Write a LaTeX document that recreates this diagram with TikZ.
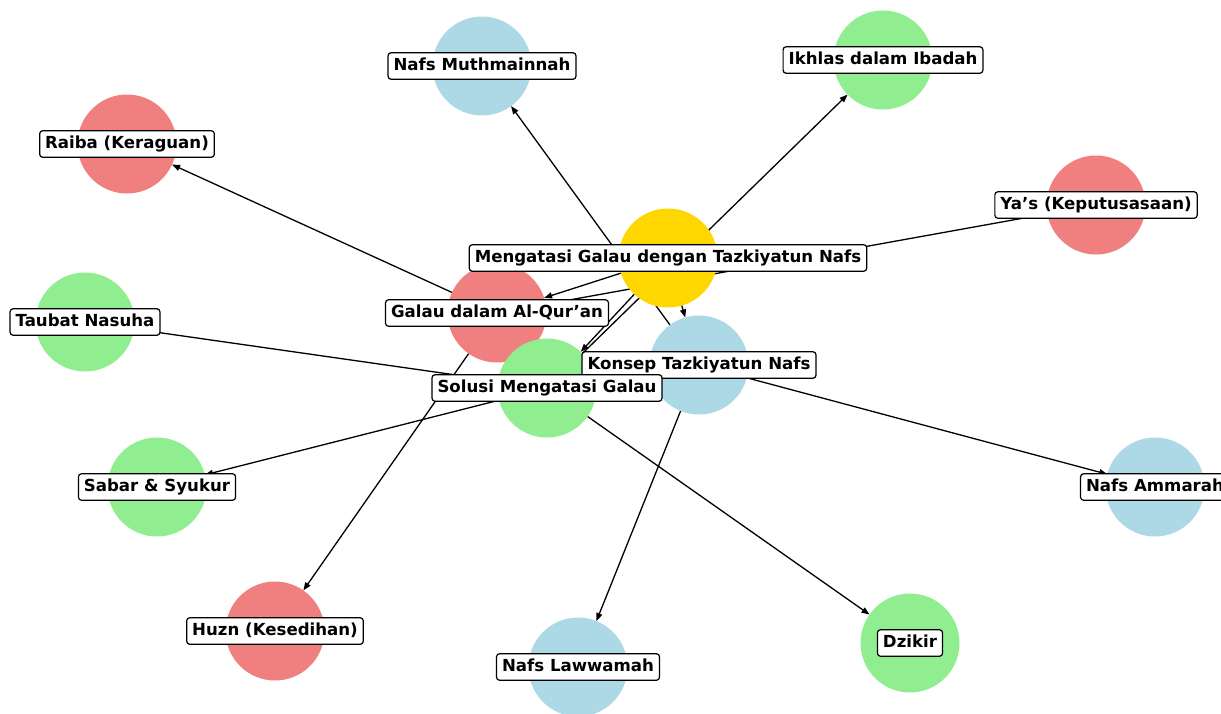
\documentclass[tikz,border=0pt]{standalone}
\usepackage{fontspec}
\setmainfont{DejaVu Sans}
\usetikzlibrary{arrows.meta}
\pgfdeclarelayer{bg}
\pgfdeclarelayer{fg}
\pgfsetlayers{bg,main,fg}
\definecolor{nred}{RGB}{240,128,128}
\definecolor{nblue}{RGB}{173,216,230}
\definecolor{ngreen}{RGB}{144,238,144}
\definecolor{ngold}{RGB}{255,215,0}
\begin{document}
\begin{tikzpicture}[x=1pt,y=-1pt,
  dot/.style={circle,minimum size=99pt,inner sep=0pt,outer sep=0pt,draw=none},
  lab/.style={draw=black,fill=white,rounded corners=3pt,line width=1.2pt,inner xsep=5.5pt,inner ysep=5pt,text height=12.5pt,text depth=4pt,font=\fontsize{16.6}{19}\selectfont\bfseries},
  arr/.style={-{Triangle[length=8pt,width=6pt]},line width=1.3pt}]
\useasboundingbox (0,0) rectangle (1221,713);
% circles
\node[dot,fill=ngold]  (m)  at (668,258) {};
\node[dot,fill=nred]   (g)  at (497,313) {};
\node[dot,fill=nblue]  (k)  at (699,365) {};
\node[dot,fill=ngreen] (s)  at (547,388) {};
\node[dot,fill=nblue]  (mu) at (482,66) {};
\node[dot,fill=ngreen] (ik) at (883,60) {};
\node[dot,fill=nred]   (ra) at (127,144) {};
\node[dot,fill=nred]   (ya) at (1096,205) {};
\node[dot,fill=ngreen] (ta) at (85,322) {};
\node[dot,fill=ngreen] (sa) at (157,487) {};
\node[dot,fill=nblue]  (am) at (1155,487) {};
\node[dot,fill=nred]   (hu) at (275,631) {};
\node[dot,fill=nblue]  (la) at (578,667) {};
\node[dot,fill=ngreen] (dz) at (910,643) {};
% edges
\begin{pgfonlayer}{bg}
\draw[arr] (m) -- (g);
\draw[arr] (m) -- (k);
\draw[arr] (m) -- (s);
\draw[arr] (g) -- (ra);
\draw[arr] (g) -- (ya);
\draw[arr] (g) -- (hu);
\draw[arr] (k) -- (mu);
\draw[arr] (k) -- (am);
\draw[arr] (k) -- (la);
\draw[arr] (s) -- (ik);
\draw[arr] (s) -- (ta);
\draw[arr] (s) -- (sa);
\draw[arr] (s) -- (dz);
\end{pgfonlayer}
% labels
\begin{pgfonlayer}{fg}
\node[lab] (mL)  at (668,258) {Mengatasi Galau dengan Tazkiyatun Nafs};
\node[lab] (gL)  at (497,313) {Galau dalam Al-Qur’an};
\node[lab] (kL)  at (699,365) {Konsep Tazkiyatun Nafs};
\node[lab] (sL)  at (547,388) {Solusi Mengatasi Galau};
\node[lab] (muL) at (482,66)  {Nafs Muthmainnah};
\node[lab] (ikL) at (883,60)  {Ikhlas dalam Ibadah};
\node[lab] (raL) at (127,144) {Raiba (Keraguan)};
\node[lab] (yaL) at (1096,205) {Ya’s (Keputusasaan)};
\node[lab] (taL) at (85,322)  {Taubat Nasuha};
\node[lab] (saL) at (157,487) {Sabar \& Syukur};
\node[lab] (amL) at (1155,487) {Nafs Ammarah};
\node[lab] (huL) at (275,631) {Huzn (Kesedihan)};
\node[lab] (laL) at (578,667) {Nafs Lawwamah};
\node[lab] (dzL) at (910,643) {Dzikir};
\end{pgfonlayer}
\end{tikzpicture}
\end{document}
